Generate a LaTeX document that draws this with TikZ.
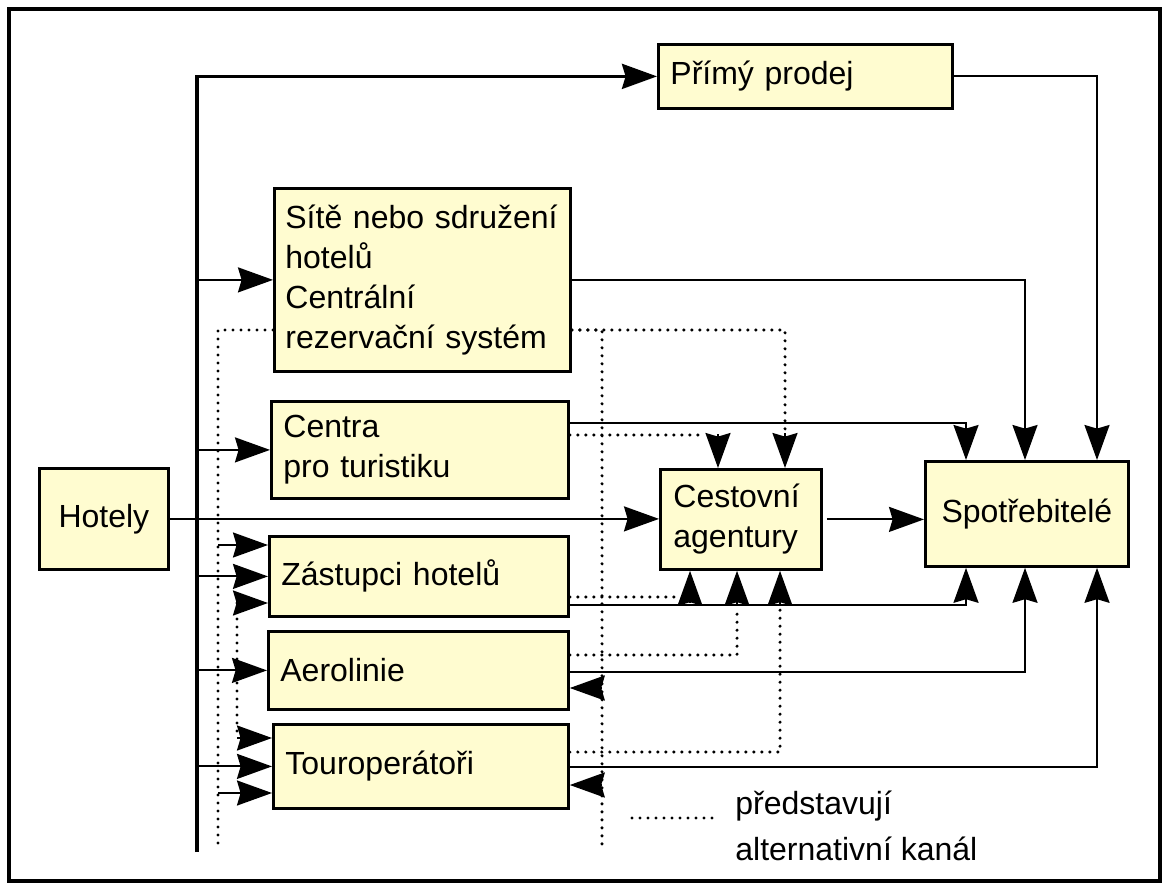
\documentclass[tikz,border=0pt]{standalone}
\usepackage{fontspec}
\setmainfont{Liberation Sans}
\usetikzlibrary{arrows.meta}
\definecolor{boxfill}{RGB}{255,252,208}
\begin{document}
\begin{tikzpicture}[x=0.5pt,y=-0.5pt,
  >={Stealth[length=17.5pt,width=12.5pt,inset=1.8pt]},
  box/.style={draw,line width=1.4pt,fill=boxfill,anchor=north west,inner xsep=6pt,inner ysep=0pt,align=left,font=\fontsize{16}{20}\selectfont},
  cbox/.style={box,align=center},
  conn/.style={line width=1pt},
  bus/.style={line width=1.6pt},
  alt/.style={line width=1.7pt,line cap=round,dash pattern=on 0pt off 4pt}]
\useasboundingbox (0,0) rectangle (1166,888);
\fill[white] (0,0) rectangle (1166,888);
\draw[line width=2pt] (9,9) rectangle (1160,881);

% boxes
\node[box,minimum width=147pt,minimum height=32pt,text width=135pt] (pp) at (657,43) {Přímý prodej};
\node[box,minimum width=148pt,minimum height=91.5pt,text width=141pt,inner xsep=3.5pt] (sit) at (273,187) {\hspace*{2pt}Sítě nebo sdružení\\\hspace*{2pt}hotelů\\\hspace*{2pt}Centrální\\\hspace*{2pt}rezervační systém};
\node[box,minimum width=148.5pt,minimum height=48.5pt,text width=136.5pt] (cen) at (270,400) {Centra\\pro turistiku};
\node[cbox,minimum width=64.5pt,minimum height=50.5pt] (hot) at (38,467) {Hotely};
\node[box,minimum width=80.5pt,minimum height=50pt,text width=67.5pt,inner xsep=6.5pt] (ces) at (659,468) {Cestovní\\agentury};
\node[cbox,minimum width=101.5pt,minimum height=52.5pt] (spot) at (924,460) {Spotřebitelé};
\node[box,minimum width=149.5pt,minimum height=40pt,text width=137.5pt] (zas) at (268,535) {Zástupci hotelů};
\node[box,minimum width=150pt,minimum height=39pt,text width=138pt] (aer) at (267,630) {Aerolinie};
\node[box,minimum width=147.5pt,minimum height=42pt,text width=135.5pt] (tour) at (272,723) {Touroperátoři};

% free ends
\coordinate (busbot) at (197,852);
\coordinate (altL) at (218,845);
\coordinate (altM) at (237,603);
\coordinate (altR) at (602,845);

% main bus
\draw[bus,->] (busbot) -- (busbot |- pp.west) -- (pp.west);
\foreach \n in {sit,cen,zas,aer,tour}
  \draw[conn,->] (busbot |- \n.west) -- (\n.west);

% Hotely -> Cestovni -> Spotrebitele
\draw[conn,->] (hot.east) -- (hot.east -| ces.west);
\draw[conn,->,shorten <=2pt] (ces.east) -- (ces.east -| spot.west);

% solid channels to Spotrebitele
\draw[conn,->] (pp.east) -| (spot.north -| 1097,0);
\draw[conn,->] (sit.east) -| (spot.north -| 1025,0);
\draw[conn,->] (cen.east |- 0,423) -| (spot.north -| 966,0);
\draw[conn,->] (zas.east |- 0,605) -| (spot.south -| 966,0);
\draw[conn,->] (aer.east |- 0,672) -| (spot.south -| 1025,0);
\draw[conn,->] (tour.east |- 0,767) -| (spot.south -| 1097,0);

% alternative (dotted) channels to Cestovni agentury
\draw[alt] (sit.east |- 0,330) -| (785,433);
\draw[conn,->] (785,433) -- (ces.north -| 785,0);
\draw[alt] (cen.east |- 0,435) -- (704,435);
\draw[conn,->] (718,434) -- (ces.north -| 718,0);
\draw[alt] (zas.east |- 0,597) -- (676,597);
\draw[conn,->] (690,602) -- (ces.south -| 690,0);
\draw[alt] (aer.east |- 0,655) -| (737,610);
\draw[conn,->] (737,604) -- (ces.south -| 737,0);
\draw[alt] (tour.east |- 0,752) -| (780,610);
\draw[conn,->] (780,604) -- (ces.south -| 780,0);

% right dotted vertical with arrows back into Aerolinie and Touroperatori
\draw[alt] (sit.east |- 0,330) -- (altR |- 0,330) -- (altR);
\draw[conn,->] (altR |- 0,688) -- (aer.east |- 0,688);
\draw[conn,->] (altR |- 0,785) -- (tour.east |- 0,785);

% left dotted vertical
\draw[alt] (sit.west |- 0,330) -| (altL);
\draw[conn,->] (altL |- 0,545) -- (zas.west |- 0,545);
\draw[conn,->] (altL |- 0,793) -- (tour.west |- 0,793);

% middle dotted vertical
\draw[alt] (altM) -- (altM |- 0,738);
\draw[conn,->] (altM) -- (zas.west |- altM);
\draw[conn,->] (altM |- 0,738) -- (tour.west |- 0,738);

% legend
\coordinate (lg1) at (632,818);
\coordinate (lg2) at (713,818);
\draw[alt] (lg1) -- (lg2);
\node[anchor=west,align=left,inner sep=0pt,font=\fontsize{16}{23}\selectfont] (leg) at (735,826) {představují\\alternativní kanál};
\end{tikzpicture}
\end{document}
